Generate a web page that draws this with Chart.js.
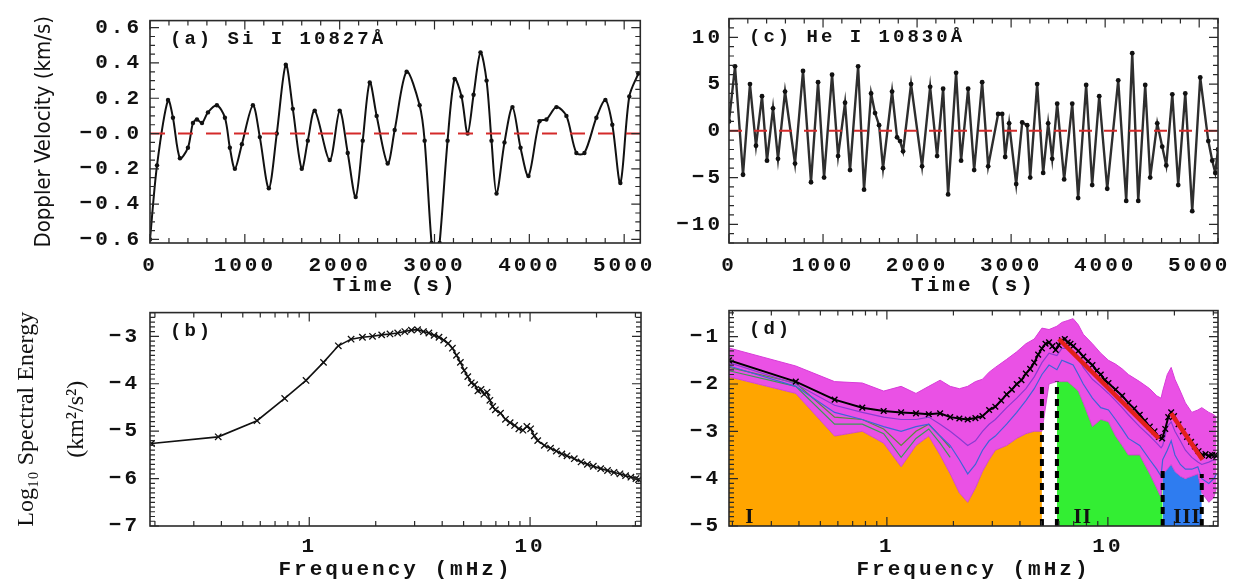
<!DOCTYPE html>
<html>
<head>
<meta charset="utf-8">
<script src="https://cdn.jsdelivr.net/npm/chart.js@4.4.1/dist/chart.umd.min.js"></script>
<style>
  body { margin: 0; background: #fff; width: 1253px; height: 582px; overflow: hidden; position: relative; }
  canvas { position: absolute; }
</style>
</head>
<body>
<canvas id="siVel" width="660" height="300" style="left:0;top:0"></canvas>
<canvas id="heVel" width="593" height="300" style="left:660px;top:0"></canvas>
<canvas id="siSpec" width="660" height="292" style="left:0;top:290px"></canvas>
<canvas id="heSpec" width="593" height="292" style="left:660px;top:290px"></canvas>
<script>
// (a) Si I 10827 Doppler velocity
const timeA = [0,74,190,242,316,400,453,495,548,611,705,790,842,895,969,1085,1158,1253,1337,1432,
  1506,1600,1664,1737,1895,2000,2085,2169,2243,2317,2390,2506,2580,2706,2843,2896,2969,3012,3054,3138,
  3212,3285,3349,3412,3485,3549,3601,3654,3738,3822,3907,3991,4107,4180,4286,4391,4496,4581,4707,4802,
  4875,4960,5054,5149];
const velA = [-0.60,-0.18,0.19,0.09,-0.14,-0.08,0.06,0.08,0.06,0.12,0.16,0.09,-0.08,-0.20,-0.06,0.16,-0.02,-0.31,0.00,0.39,
  0.14,-0.20,-0.04,0.13,-0.15,0.13,-0.11,-0.36,-0.04,0.29,0.10,-0.17,0.02,0.35,0.16,-0.04,-0.62,-0.76,-0.62,-0.04,
  0.31,0.21,0.00,0.22,0.46,0.30,-0.04,-0.34,-0.05,0.15,-0.08,-0.24,0.07,0.08,0.15,0.10,-0.11,-0.11,0.09,0.19,
  0.05,-0.28,0.21,0.34];

// (c) He I 10830 Doppler velocity
const timeC = [0,64,149,223,287,351,404,468,521,596,702,787,872,947,1011,1096,1160,1234,1287,1373,
  1436,1511,1553,1596,1638,1734,1787,1819,1851,1936,2053,2139,2213,2277,2330,2415,2468,2543,2607,2692,
  2756,2862,2905,2937,2979,3054,3118,3171,3203,3277,3341,3394,3437,3490,3564,3650,3713,3798,3862,3937,
  4022,4139,4224,4288,4352,4426,4479,4554,4607,4650,4714,4777,4852,4926,5011,5097,5139,5171,5200];
const velC = [1.0,6.9,-4.7,5.0,-1.6,3.7,-3.2,2.4,-3.0,4.2,-3.5,6.4,-5.5,5.2,-5.0,6.0,-2.7,3.0,-4.2,6.9,
  -6.3,4.0,1.9,0.6,-4.0,4.2,-0.7,-1.1,-2.2,5.0,-3.8,4.7,-2.7,4.5,-6.8,6.2,-3.2,4.5,-4.2,5.2,
  -3.8,1.8,1.8,-2.8,0.8,-5.7,0.9,0.6,-5.0,5.0,-4.5,0.8,-3.0,2.9,-5.2,2.9,-7.2,4.9,-5.8,3.7,
  -6.2,5.4,-7.5,8.3,-7.5,4.9,-5.0,0.8,-1.7,-3.7,3.9,-5.8,4.0,-8.6,5.7,-1.1,-3.2,-4.5,-2.0];

// (b) Si I spectrum
const freqB = [0.193,0.387,0.580,0.774,0.967,1.160,1.354,1.547,1.741,1.934,2.128,2.321,2.515,2.708,2.902,3.095,3.289,3.482,3.676,3.869,
  4.063,4.256,4.449,4.643,4.836,5.030,5.223,5.417,5.610,5.804,5.997,6.190,6.384,6.577,6.771,6.964,7.351,7.738,8.125,8.512,
  8.898,9.285,9.672,10.06,10.45,10.83,11.60,12.38,13.15,13.93,14.70,15.86,17.02,18.18,19.34,20.89,22.43,23.98,25.53,27.08,
  28.62,30.17,31.0];
const specB = [-5.26,-5.12,-4.78,-4.31,-3.93,-3.55,-3.20,-3.06,-3.02,-3.00,-2.97,-2.95,-2.93,-2.90,-2.87,-2.86,-2.90,-2.93,-2.98,-3.02,
  -3.08,-3.15,-3.25,-3.40,-3.55,-3.72,-3.85,-3.98,-4.02,-4.15,-4.12,-4.22,-4.18,-4.35,-4.48,-4.55,-4.62,-4.75,-4.82,-4.88,
  -4.95,-4.98,-4.90,-4.95,-5.10,-5.20,-5.30,-5.36,-5.42,-5.48,-5.52,-5.58,-5.65,-5.70,-5.74,-5.79,-5.83,-5.87,-5.90,-5.94,
  -5.97,-6.00,-6.02];

// (d) He I spectra: bundle of pixels, mean, fits
const freqBand = [0.193,0.387,0.580,0.774,0.967,1.160,1.354,1.547,1.741,1.934,2.128,2.321,2.515,2.708,2.902,3.095,3.482,3.869,4.256,4.643,
  5.030,5.417,5.880,6.190,6.577,6.964,7.351,7.738,8.512,9.285,10.06,10.83,11.60,12.38,13.93,15.47,16.63,17.41,17.70,18.57,
  19.34,20.11,21.27,22.43,23.98,25.53,26.60,28.62,30.17,31.0];
const bandTop = [-1.24,-1.62,-1.95,-1.98,-2.15,-2.05,-2.20,-2.05,-1.92,-2.05,-2.10,-2.05,-1.95,-1.90,-1.75,-1.65,-1.48,-1.32,-1.15,-1.05,
  -0.82,-0.85,-0.78,-0.70,-0.66,-0.62,-0.75,-0.95,-1.15,-1.35,-1.50,-1.58,-1.68,-1.80,-1.95,-2.10,-2.25,-2.30,-2.15,-1.80,
  -1.65,-1.90,-2.15,-2.40,-2.60,-2.55,-2.50,-2.60,-2.65,-2.70];
const bandLow = [-1.85,-2.20,-3.10,-3.00,-3.25,-3.75,-3.30,-3.10,-3.50,-3.90,-4.30,-4.50,-4.20,-3.85,-3.60,-3.40,-3.30,-3.15,-3.05,-3.00,
  -3.00,-2.00,-1.95,-1.95,-1.95,-2.05,-2.15,-2.40,-2.90,-2.75,-2.80,-3.10,-3.30,-3.50,-3.50,-3.90,-4.20,-4.40,-3.90,-3.80,
  -3.70,-3.85,-3.95,-4.00,-3.95,-3.90,-4.30,-4.50,-4.40,-4.20];
const purpleLine = [-1.55,-2.00,-2.45,-2.60,-2.70,-2.75,-2.75,-2.70,-2.85,-3.00,-3.15,-3.30,-3.20,-3.00,-2.85,-2.75,-2.50,-2.30,-2.10,-1.85,
  -1.55,-1.35,-1.40,-1.25,-1.25,-1.30,-1.45,-1.65,-1.90,-2.05,-2.20,-2.35,-2.50,-2.65,-2.90,-3.10,-3.25,-3.35,-3.30,-2.90,
  -2.80,-3.00,-3.20,-3.40,-3.55,-3.65,-3.70,-3.65,-3.60,-3.60];
const blueLine = [-1.62,-2.05,-2.60,-2.75,-2.90,-3.00,-2.90,-2.85,-3.10,-3.30,-3.60,-3.90,-3.70,-3.40,-3.20,-3.10,-2.85,-2.60,-2.35,-2.10,
  -1.80,-1.60,-1.70,-1.50,-1.55,-1.60,-1.80,-2.00,-2.30,-2.50,-2.55,-2.75,-2.95,-3.15,-3.30,-3.60,-3.80,-3.95,-3.60,-3.40,
  -3.20,-3.50,-3.70,-3.80,-3.80,-3.75,-4.00,-4.10,-4.00,-3.90];
const greenLine = [-1.72,-2.05,-2.85,-2.85,-3.05,-3.55,-3.15,-2.95,-3.25,-3.55];
const oliveLine = [-1.65,-1.98,-2.70,-2.75,-2.95,-3.30,-3.00,-2.85,-3.10,-3.35];

const freqMean = [0.193,0.387,0.580,0.774,0.967,1.160,1.354,1.547,1.741,1.934,2.128,2.321,2.515,2.708,2.902,3.095,3.289,3.482,3.676,3.869,
  4.063,4.256,4.449,4.643,4.836,5.030,5.223,5.417,5.610,5.804,5.997,6.190,6.384,6.577,6.771,6.964,7.351,7.738,8.125,8.512,
  8.898,9.285,9.672,10.06,10.83,11.60,12.38,13.15,13.93,14.70,15.47,16.25,17.02,17.60,18.18,18.76,19.34,19.92,20.89,21.85,
  22.82,23.79,24.75,25.72,26.69,27.66,28.62,29.59,30.56,31.0];
const meanSpec = [-1.50,-1.95,-2.33,-2.50,-2.57,-2.60,-2.62,-2.64,-2.62,-2.70,-2.73,-2.75,-2.72,-2.68,-2.55,-2.48,-2.35,-2.22,-2.12,-2.00,
  -1.92,-1.78,-1.68,-1.55,-1.38,-1.25,-1.15,-1.12,-1.20,-1.28,-1.18,-1.08,-1.05,-1.12,-1.15,-1.20,-1.30,-1.42,-1.52,-1.60,
  -1.72,-1.80,-1.92,-1.98,-2.12,-2.25,-2.40,-2.52,-2.65,-2.78,-2.90,-3.00,-3.12,-3.15,-2.95,-2.70,-2.60,-2.68,-2.85,-3.00,
  -3.12,-3.22,-3.32,-3.42,-3.50,-3.48,-3.52,-3.50,-3.50,-3.52];

const fitF1 = [6.0, 17.0], fitV1 = [-1.05, -3.15];
const fitF2 = [19.3, 26.8], fitV2 = [-2.62, -3.60];
const regionEdges = [5.03, 5.88, 17.7, 26.6];
const edgeTops = [-2.0, -1.95, -3.8, -3.9];
const regionNames = ['I', 'II', 'III'];
const regionNameF = [0.24, 7.7, 22.8];

// tick values and labels
const timeTicks = [0, 1000, 2000, 3000, 4000, 5000];
const timeLabels = ['0', '1000', '2000', '3000', '4000', '5000'];
const freqTicks = [1, 10];
const freqLabels = ['1', '10'];
const yTicksA = [-0.6, -0.4, -0.2, 0, 0.2, 0.4, 0.6];
const yLabelsA = ['\u22120.6', '\u22120.4', '\u22120.2', '\u22120.0', '0.2', '0.4', '0.6'];
const yTicksC = [-10, -5, 0, 5, 10];
const yLabelsC = ['\u221210', '\u22125', '0', '5', '10'];
const yTicksB = [-7, -6, -5, -4, -3];
const yLabelsB = ['\u22127', '\u22126', '\u22125', '\u22124', '\u22123'];
const yTicksD = [-5, -4, -3, -2, -1];
const yLabelsD = ['\u22125', '\u22124', '\u22123', '\u22122', '\u22121'];

const MONO = '"Liberation Mono", "DejaVu Sans Mono", monospace';
const ink = '#111';

function pts(xs, ys) { return ys.map((v, i) => ({ x: xs[i], y: v })); }
function bandPts(lo, hi) {
  return freqBand.map((f, i) => ({ x: f, y: bandLow[i] })).filter(p => p.x >= lo && p.x <= hi);
}

// frame, inward ticks, panel label, y titles and notes
const panelDecor = {
  id: 'panelDecor',
  beforeDraw(chart) { chart.ctx.letterSpacing = '3px'; },
  afterDatasetsDraw(chart, args, o) {
    const { ctx, chartArea: a, scales: { x, y } } = chart;
    ctx.save();
    ctx.strokeStyle = '#2a2a2a';
    ctx.lineWidth = 1.2;
    ctx.beginPath();
    const tickX = (v, len) => {
      const p = x.getPixelForValue(v);
      if (p < a.left - 0.5 || p > a.right + 0.5) return;
      ctx.moveTo(p, a.bottom); ctx.lineTo(p, a.bottom - len);
      ctx.moveTo(p, a.top); ctx.lineTo(p, a.top + len);
    };
    const tickY = (v, len) => {
      const p = y.getPixelForValue(v);
      if (p < a.top - 0.5 || p > a.bottom + 0.5) return;
      ctx.moveTo(a.left, p); ctx.lineTo(a.left + len, p);
      ctx.moveTo(a.right, p); ctx.lineTo(a.right - len, p);
    };
    if (o.xLog) {
      for (let d = 0.1; d < 100; d *= 10) for (let m = 1; m <= 9; m++) tickX(m * d, m === 1 ? 9 : 5);
    } else {
      const n = Math.round(o.xMajor / o.xMinor);
      for (let i = Math.ceil(x.min / o.xMinor); i * o.xMinor <= x.max; i++) tickX(i * o.xMinor, i % n === 0 ? 9 : 5);
    }
    const ny = Math.round(o.yMajor / o.yMinor);
    for (let i = Math.ceil(y.min / o.yMinor - 1e-6); i * o.yMinor <= y.max + 1e-9; i++) tickY(i * o.yMinor, i % ny === 0 ? 9 : 5);
    ctx.stroke();
    ctx.lineWidth = 1.6;
    ctx.strokeRect(a.left, a.top, a.right - a.left, a.bottom - a.top);

    ctx.fillStyle = ink;
    ctx.textBaseline = 'middle';
    ctx.textAlign = 'left';
    ctx.letterSpacing = '3px';
    ctx.font = 'bold 19px ' + MONO;
    ctx.fillText(o.label, a.left + 20, a.top + 19);

    if (o.notes) {
      ctx.letterSpacing = '1px';
      ctx.textAlign = 'center';
      ctx.font = 'bold 21px "Liberation Serif", serif';
      o.notes.text.forEach((t, i) => ctx.fillText(t, x.getPixelForValue(o.notes.at[i]), y.getPixelForValue(o.notes.y)));
    }
    if (o.yTitle) {
      ctx.letterSpacing = '0px';
      ctx.textAlign = 'center';
      ctx.font = o.yTitleFont;
      o.yTitle.forEach((t, i) => {
        ctx.save();
        ctx.translate(o.yTitleX[i], (a.top + a.bottom) / 2);
        ctx.rotate(-Math.PI / 2);
        ctx.fillText(t, 0, 0);
        ctx.restore();
      });
    }
    ctx.restore();
  }
};

function panelOptions(c) {
  const tickFont = { family: MONO, weight: 'bold', size: 21, lineHeight: 1.2 };
  return {
    responsive: false,
    animation: false,
    events: [],
    layout: { padding: { top: c.padTop, right: c.padRight, left: 0, bottom: 0 } },
    plugins: { legend: { display: false }, tooltip: { enabled: false }, panelDecor: c.decor },
    scales: {
      x: {
        type: c.xType, min: c.xMin, max: c.xMax,
        grid: { display: false, drawTicks: false }, border: { display: false },
        afterBuildTicks: s => { s.ticks = c.xTicks.map(v => ({ value: v })); },
        afterFit: s => { s.height = c.xHeight; },
        ticks: { autoSkip: false, maxRotation: 0, padding: c.xPad, color: ink, font: tickFont,
          callback: (v, i) => c.xLabels[i] },
        title: { display: true, text: c.xTitle, color: ink, font: tickFont,
          padding: { top: 0, bottom: c.xTitlePad } }
      },
      y: {
        type: 'linear', min: c.yMin, max: c.yMax,
        grid: { display: false, drawTicks: false }, border: { display: false },
        afterBuildTicks: s => { s.ticks = c.yTicks.map(v => ({ value: v })); },
        afterFit: s => { s.width = c.yWidth; },
        ticks: { autoSkip: false, padding: c.yPad, color: ink, font: tickFont,
          callback: (v, i) => c.yLabels[i] }
      }
    }
  };
}

const zeroLine = (xmax, dash) => ({
  data: [{ x: 0, y: 0 }, { x: xmax, y: 0 }],
  borderColor: '#d42a2a', borderWidth: 2, borderDash: dash, pointRadius: 0, fill: false
});

// (a)
new Chart(document.getElementById('siVel'), {
  type: 'line',
  data: {
    datasets: [
      zeroLine(5170, [15, 13]),
      {
        data: pts(timeA, velA),
        borderColor: ink, borderWidth: 2, tension: 0.3,
        pointRadius: 2.2, pointBackgroundColor: ink, pointBorderWidth: 0, fill: false
      }
    ]
  },
  options: panelOptions({
    padTop: 8, padRight: 19, xType: 'linear', xMin: 0, xMax: 5170,
    xTicks: timeTicks, xLabels: timeLabels, xHeight: 57, xPad: 10, xTitle: 'Time (s)', xTitlePad: 2,
    yMin: -0.62, yMax: 0.64, yTicks: yTicksA, yLabels: yLabelsA, yWidth: 150, yPad: 8,
    decor: { label: '(a) Si I 10827\u00c5', xMajor: 1000, xMinor: 200, yMajor: 0.2, yMinor: 0.05,
      yTitle: ['Doppler Velocity (km/s)'], yTitleX: [44],
      yTitleFont: '22px "DejaVu Sans Condensed", "Liberation Sans Narrow", "DejaVu Sans", sans-serif' }
  }),
  plugins: [panelDecor]
});

// (c)
new Chart(document.getElementById('heVel'), {
  type: 'line',
  data: {
    datasets: [
      zeroLine(5200, [13, 12]),
      {
        data: pts(timeC, velC),
        borderColor: '#2e2e2e', borderWidth: 2.4, tension: 0,
        pointRadius: 2.4, pointBackgroundColor: ink, pointBorderWidth: 0, fill: false
      }
    ]
  },
  options: panelOptions({
    padTop: 8, padRight: 35, xType: 'linear', xMin: 0, xMax: 5200,
    xTicks: timeTicks, xLabels: timeLabels, xHeight: 57, xPad: 10, xTitle: 'Time (s)', xTitlePad: 2,
    yMin: -12, yMax: 12, yTicks: yTicksC, yLabels: yLabelsC, yWidth: 69, yPad: 6,
    decor: { label: '(c) He I 10830\u00c5', xMajor: 1000, xMinor: 200, yMajor: 5, yMinor: 1 }
  }),
  plugins: [panelDecor]
});

// (b)
new Chart(document.getElementById('siSpec'), {
  type: 'line',
  data: {
    datasets: [{
      data: pts(freqB, specB),
      borderColor: ink, borderWidth: 1.6, tension: 0,
      pointStyle: 'crossRot', pointRadius: 4.5, pointBorderColor: ink, pointBorderWidth: 1.3, fill: false
    }]
  },
  options: panelOptions({
    padTop: 13, padRight: 19, xType: 'logarithmic', xMin: 0.19, xMax: 31.8,
    xTicks: freqTicks, xLabels: freqLabels, xHeight: 56, xPad: 8, xTitle: 'Frequency (mHz)', xTitlePad: 0,
    yMin: -7, yMax: -2.5, yTicks: yTicksB, yLabels: yLabelsB, yWidth: 150, yPad: 10,
    decor: { label: '(b)', xLog: true, yMajor: 1, yMinor: 0.1,
      yTitle: ['Log\u2081\u2080 Spectral Energy', '(km\u00b2/s\u00b2)'], yTitleX: [27, 77],
      yTitleFont: '24px "Liberation Serif", "DejaVu Serif", serif' }
  }),
  plugins: [panelDecor]
});

// (d)
const edgeSets = regionEdges.map((f, i) => ({
  data: [{ x: f, y: -5 }, { x: f, y: edgeTops[i] }],
  borderColor: '#000', borderWidth: 4, borderDash: [7, 5], pointRadius: 0, fill: false
}));
const thin = (ys, color) => ({
  data: pts(freqBand, ys), borderColor: color, borderWidth: 1.2, pointRadius: 0, tension: 0, fill: false
});

new Chart(document.getElementById('heSpec'), {
  type: 'line',
  data: {
    datasets: [
      { data: pts(fitF1, fitV1), borderColor: '#e3201b', borderWidth: 4.5, pointRadius: 0, fill: false },
      { data: pts(fitF2, fitV2), borderColor: '#e3201b', borderWidth: 4.5, pointRadius: 0, fill: false },
      {
        data: pts(freqMean, meanSpec), borderColor: '#000', borderWidth: 2, tension: 0,
        pointStyle: 'crossRot', pointRadius: 4, pointBorderColor: '#000', pointBorderWidth: 1.4, fill: false
      },
      ...edgeSets,
      thin(purpleLine, '#8a3cd2'),
      thin(blueLine, '#3f64d8'),
      thin(greenLine, '#3c9a55'),
      thin(oliveLine, '#5b8a3c'),
      { data: pts(freqBand, bandTop), borderColor: '#d83cd8', borderWidth: 1, pointRadius: 0, tension: 0, fill: false },
      { data: pts(freqBand, bandLow), borderColor: 'rgba(200,60,200,0.8)', borderWidth: 1, pointRadius: 0, tension: 0,
        fill: '-1', backgroundColor: 'rgba(232,62,226,0.9)' },
      { data: bandPts(0, 5.03), borderWidth: 0, pointRadius: 0, fill: 'start', backgroundColor: '#ffa500' },
      { data: bandPts(5.88, 17.7), borderWidth: 0, pointRadius: 0, fill: 'start', backgroundColor: '#33ee33' },
      { data: bandPts(17.7, 26.6), borderWidth: 0, pointRadius: 0, fill: 'start', backgroundColor: '#2e7cf0' }
    ]
  },
  options: panelOptions({
    padTop: 13, padRight: 35, xType: 'logarithmic', xMin: 0.193, xMax: 31.5,
    xTicks: freqTicks, xLabels: freqLabels, xHeight: 56, xPad: 8, xTitle: 'Frequency (mHz)', xTitlePad: 0,
    yMin: -5, yMax: -0.45, yTicks: yTicksD, yLabels: yLabelsD, yWidth: 69, yPad: 8,
    decor: { label: '(d)', xLog: true, yMajor: 1, yMinor: 0.1,
      notes: { text: regionNames, at: regionNameF, y: -4.82 } }
  }),
  plugins: [panelDecor]
});
</script>
</body>
</html>
